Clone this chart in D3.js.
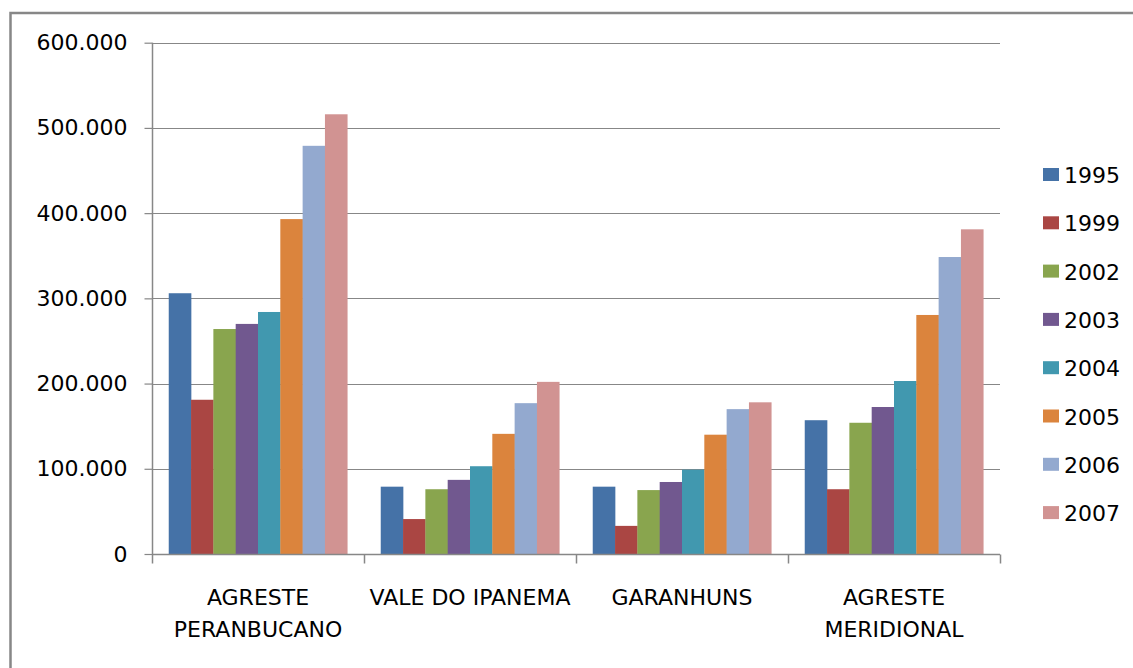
<!DOCTYPE html>
<html>
<head>
<meta charset="utf-8">
<script src="https://cdn.jsdelivr.net/npm/d3@7"></script>
<style>
  html, body { margin: 0; padding: 0; background: #fff; }
  svg { display: block; }
  text { font-family: "DejaVu Sans", Verdana, sans-serif; fill: #000; }
</style>
</head>
<body>
<svg id="chart" width="1133" height="668"></svg>
<script>
const categories = ["AGRESTE PERANBUCANO", "VALE DO IPANEMA", "GARANHUNS", "AGRESTE MERIDIONAL"];
const categoryLines = [["AGRESTE", "PERANBUCANO"], ["VALE DO IPANEMA"], ["GARANHUNS"], ["AGRESTE", "MERIDIONAL"]];
const years = ["1995", "1999", "2002", "2003", "2004", "2005", "2006", "2007"];
const v1995 = [306000, 79000, 79000, 157000];
const v1999 = [181000, 41000, 33000, 76000];
const v2002 = [264000, 76000, 75000, 154000];
const v2003 = [270000, 87000, 84500, 172500];
const v2004 = [284000, 103000, 99000, 203000];
const v2005 = [393000, 141000, 140000, 280500];
const v2006 = [479000, 177000, 170000, 348500];
const v2007 = [516000, 202000, 178000, 381000];
const yTicks = [0, 100000, 200000, 300000, 400000, 500000, 600000];
const colors = ["#4572A7", "#AA4643", "#89A54E", "#71588F", "#4198AF", "#DB843D", "#93A9CF", "#D19392"];

const seriesValues = [v1995, v1999, v2002, v2003, v2004, v2005, v2006, v2007];
const svg = d3.select("#chart");

// outer frame
svg.append("rect").attr("x", 10.5).attr("y", 13).attr("width", 1140).attr("height", 680)
  .attr("fill", "none").attr("stroke", "#878787").attr("stroke-width", 2.5);

const pLeft = 152, pRight = 1000, pTop = 42.7, pBottom = 554;
const y = d3.scaleLinear().domain([0, 600000]).range([pBottom, pTop]);
const x0 = d3.scaleBand().domain(categories).range([pLeft, pRight]).padding(0);
const x1 = d3.scaleBand().domain(years).range([0, x0.bandwidth()]).paddingInner(0).paddingOuter(0.75);
const color = d3.scaleOrdinal().domain(years).range(colors);

const fmt = v => d3.format(",")(v).replace(/,/g, ".");

// gridlines
svg.append("g").selectAll("line").data(yTicks.filter(t => t > 0)).join("line")
  .attr("x1", pLeft).attr("x2", pRight)
  .attr("y1", d => Math.round(y(d)) + 0.5).attr("y2", d => Math.round(y(d)) + 0.5)
  .attr("stroke", "#878787").attr("stroke-width", 1.2);

// bars
const g = svg.append("g");
categories.forEach((c, ci) => {
  years.forEach((yr, si) => {
    const v = seriesValues[si][ci];
    g.append("rect")
      .attr("x", x0(c) + x1(yr))
      .attr("y", y(v))
      .attr("width", x1.bandwidth() + 0.3)
      .attr("height", y(0) - y(v))
      .attr("fill", color(yr));
  });
});

// y axis
const yAxis = d3.axisLeft(y).tickValues(yTicks).tickFormat(fmt).tickSize(8).tickPadding(17);
const ya = svg.append("g").attr("transform", `translate(${pLeft + 0.5},0)`).call(yAxis);
ya.select(".domain").attr("stroke", "#878787").attr("stroke-width", 1.5).attr("d", `M0,${pTop}V${pBottom}`);
ya.selectAll(".tick line").attr("stroke", "#878787").attr("stroke-width", 1.2);
ya.selectAll(".tick text").attr("font-size", 22).attr("font-family", "DejaVu Sans").attr("fill", "#000");

// x axis
const xa = svg.append("g").attr("transform", `translate(0,${Math.round(pBottom) + 0.5})`);
xa.append("line").attr("x1", pLeft).attr("x2", pRight).attr("stroke", "#878787").attr("stroke-width", 1.5);
const boundaries = categories.map(c => x0(c)).concat([pRight]);
xa.selectAll("line.tk").data(boundaries).join("line").attr("class", "tk")
  .attr("x1", d => d + 0.5).attr("x2", d => d + 0.5).attr("y1", 0).attr("y2", 9)
  .attr("stroke", "#878787").attr("stroke-width", 1.5);
categories.forEach((c, ci) => {
  const t = xa.append("text").attr("text-anchor", "middle").attr("font-size", 22)
    .attr("x", x0(c) + x0.bandwidth() / 2);
  categoryLines[ci].forEach((ln, li) => {
    t.append("tspan").attr("x", x0(c) + x0.bandwidth() / 2).attr("y", 50.5 + li * 32).text(ln);
  });
});

// legend
const lg = svg.append("g").attr("transform", "translate(1043,168)");
years.forEach((yr, i) => {
  const row = lg.append("g").attr("transform", `translate(0,${i * 48.3})`);
  row.append("rect").attr("width", 16).attr("height", 13).attr("fill", color(yr));
  row.append("text").attr("x", 21).attr("y", 15).attr("font-size", 22).text(yr);
});
</script>
</body>
</html>
